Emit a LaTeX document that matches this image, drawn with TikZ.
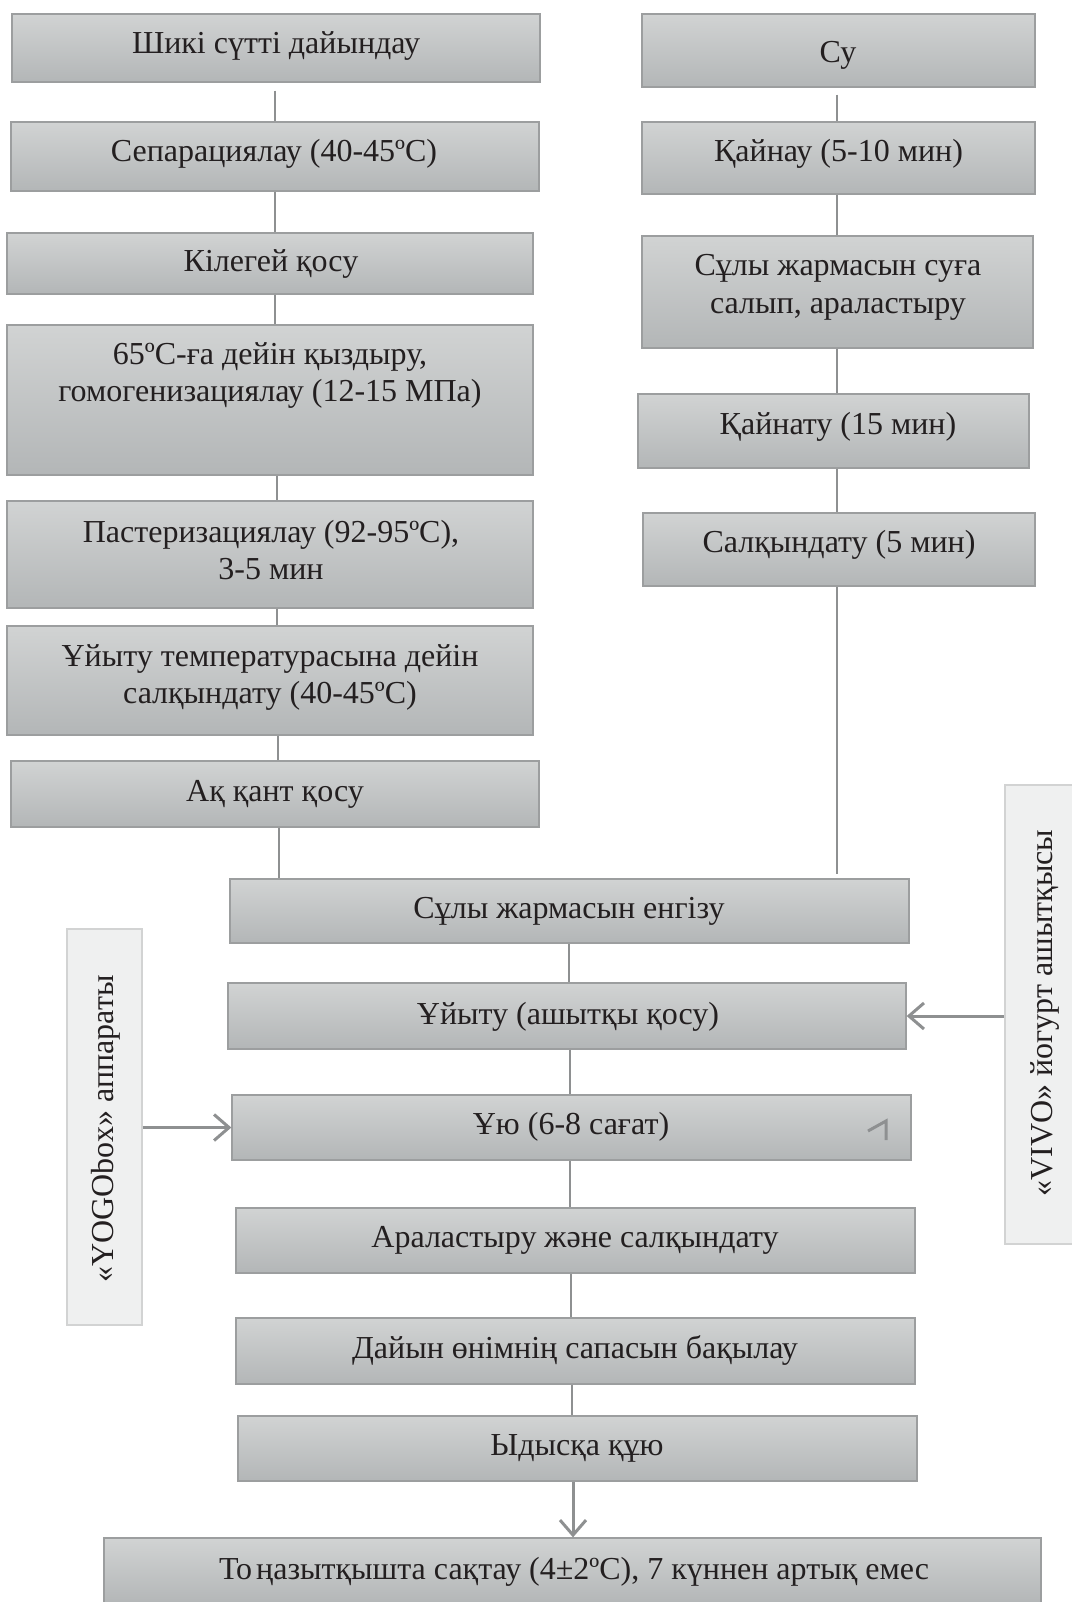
\documentclass[tikz,border=0pt]{standalone}
\usepackage{fontspec}
\setmainfont{Liberation Serif}
\usetikzlibrary{arrows.meta}
\definecolor{boxtop}{HTML}{D1D3D3}
\definecolor{boxbot}{HTML}{B3B6B7}
\definecolor{boxline}{HTML}{9C9E9F}
\definecolor{connc}{HTML}{8E9091}
\definecolor{sidefill}{HTML}{EFF0F0}
\definecolor{sideline}{HTML}{D2D3D3}
\definecolor{txt}{HTML}{231F20}
\begin{document}
\begin{tikzpicture}[x=1pt,y=-1pt,
  box/.style={draw=boxline, line width=1.3pt, top color=boxtop, bottom color=boxbot, inner sep=0pt},
  side/.style={draw=sideline, fill=sidefill, line width=1.3pt, inner sep=0pt},
  lbl/.style={text=txt, font=\fontsize{32}{37.5}\selectfont, align=center, inner sep=0pt},
  boxtext/.style={lbl, yshift=-2.5pt},
  conn/.style={draw=connc, line width=2.6pt},
  arr/.style={draw=connc, line width=3pt, -{Straight Barb[length=15pt,width=26pt,line width=3pt]}}
]
\useasboundingbox (0,0) rectangle (1071,1602);
\fill[white] (0,0) rectangle (1071,1602);

% left column
\node[box, minimum width=528pt, minimum height=68pt] (a1) at (276,48) {};
\node[box, minimum width=528pt, minimum height=69pt] (a2) at (275,156.5) {};
\node[box, minimum width=526pt, minimum height=61pt] (a3) at (270,263.5) {};
\node[box, minimum width=526pt, minimum height=150pt] (a4) at (270,400) {};
\node[box, minimum width=526pt, minimum height=107pt] (a5) at (270,554.5) {};
\node[box, minimum width=526pt, minimum height=109pt] (a6) at (270,680.5) {};
\node[box, minimum width=528pt, minimum height=66pt] (a7) at (275,794) {};

\node[boxtext] (a1t) at (276,44) {Шикі сүтті дайындау};
\node[boxtext] (a2t) at (274,151) {Сепарациялау (40-45ºC)};
\node[boxtext] (a3t) at (271,262) {Кілегей қосу};
\node[boxtext] (a4t) at (270,373) {65ºC-ға дейін қыздыру,\\гомогенизациялау (12-15 МПа)};
\node[boxtext] (a5t) at (271,547.5) {Пастеризациялау (92-95ºC),\\3-5 мин};
\node[boxtext] (a6t) at (270,675) {Ұйыту температурасына дейін\\салқындату (40-45ºC)};
\node[boxtext] (a7t) at (275,792) {Ақ қант қосу};

% right column
\node[box, minimum width=393pt, minimum height=73pt] (r1) at (838.5,50.5) {};
\node[box, minimum width=393pt, minimum height=72pt] (r2) at (838.5,158) {};
\node[box, minimum width=391pt, minimum height=112pt] (r3) at (837.5,292) {};
\node[box, minimum width=391pt, minimum height=74pt] (r4) at (833.5,431) {};
\node[box, minimum width=392pt, minimum height=73pt] (r5) at (839,549.5) {};

\node[boxtext] (r1t) at (838,53) {Су};
\node[boxtext] (r2t) at (838.5,151) {Қайнау (5-10 мин)};
\node[boxtext] (r3t) at (838,285) {Сұлы жармасын суға\\салып, араластыру};
\node[boxtext] (r4t) at (838,424) {Қайнату (15 мин)};
\node[boxtext] (r5t) at (839,542) {Салқындату (5 мин)};

% bottom column
\node[box, minimum width=679pt, minimum height=64pt] (b1) at (569.5,911) {};
\node[box, minimum width=678pt, minimum height=66pt] (b2) at (567,1016) {};
\node[box, minimum width=679pt, minimum height=65pt] (b3) at (571.5,1127.5) {};
\node[box, minimum width=679pt, minimum height=65pt] (b4) at (575.5,1240.5) {};
\node[box, minimum width=679pt, minimum height=66pt] (b5) at (575.5,1351) {};
\node[box, minimum width=679pt, minimum height=65pt] (b6) at (577.5,1448.5) {};
\node[box, minimum width=937pt, minimum height=66pt] (b7) at (572.5,1571) {};

\node[boxtext] (b1t) at (569,908.5) {Сұлы жармасын енгізу};
\node[boxtext] (b2t) at (568,1014) {Ұйыту (ашытқы қосу)};
\node[boxtext] (b3t) at (571,1124) {Ұю (6-8 сағат)};
\node[boxtext] (b4t) at (575,1237.5) {Араластыру және салқындату};
\node[boxtext] (b5t) at (575,1348) {Дайын өнімнің сапасын бақылау};
\node[boxtext] (b6t) at (577,1446) {Ыдысқа құю};
\node[boxtext] (b7t) at (574,1569) {То\kern4pt ңазытқышта сақтау (4±2ºC), 7 күннен артық емес};

% side boxes
\node[side, minimum width=75pt, minimum height=396pt] (s1) at (104.5,1127) {};
\node[side, minimum width=72pt, minimum height=459pt] (s2) at (1041,1014.5) {};
\node[lbl, rotate=90] (s1t) at (106,1129) {«YOGObox» аппараты};
\node[lbl, rotate=90] (s2t) at (1045,1013) {«VIVO» йогурт ашытқысы};

% x positions of the vertical connectors
\coordinate (xa) at (275,0);
\coordinate (xb) at (277,0);
\coordinate (xc) at (278,0);
\coordinate (xd) at (279,0);
\coordinate (xr) at (837,0);
\coordinate (xm1) at (569,0);
\coordinate (xm2) at (570,0);
\coordinate (xm3) at (571,0);
\coordinate (xm4) at (572,0);
\coordinate (xm5) at (573,0);

% connectors left
\draw[conn] ([yshift=-8pt]a1.south -| xa) -- (a2.north -| xa);
\draw[conn] (a2.south -| xa) -- (a3.north -| xa);
\draw[conn] (a3.south -| xa) -- (a4.north -| xa);
\draw[conn] (a4.south -| xb) -- (a5.north -| xb);
\draw[conn] (a5.south -| xb) -- (a6.north -| xb);
\draw[conn] (a6.south -| xc) -- (a7.north -| xc);
\draw[conn] (a7.south -| xd) -- (b1.north -| xd);

% connectors right
\draw[conn] ([yshift=-7pt]r1.south -| xr) -- (r2.north -| xr);
\draw[conn] (r2.south -| xr) -- (r3.north -| xr);
\draw[conn] (r3.south -| xr) -- (r4.north -| xr);
\draw[conn] (r4.south -| xr) -- (r5.north -| xr);
\draw[conn] (r5.south -| xr) -- ([yshift=4pt]b1.north -| xr);

% connectors bottom
\draw[conn] (b1.south -| xm1) -- (b2.north -| xm1);
\draw[conn] (b2.south -| xm2) -- (b3.north -| xm2);
\draw[conn] (b3.south -| xm2) -- (b4.north -| xm2);
\draw[conn] (b4.south -| xm3) -- (b5.north -| xm3);
\draw[conn] (b5.south -| xm4) -- (b6.north -| xm4);
\draw[arr] (b6.south -| xm5) -- (b7.north -| xm5);

% side arrows
\draw[arr] (s1.east |- b3) -- (b3.west);
\draw[arr] (s2.west |- b2) -- (b2.east);

% stray mark in the "Ұю" box
\draw[draw=connc, line width=3pt] (868,1131) -- (886,1121) -- (886,1140);
\end{tikzpicture}
\end{document}
